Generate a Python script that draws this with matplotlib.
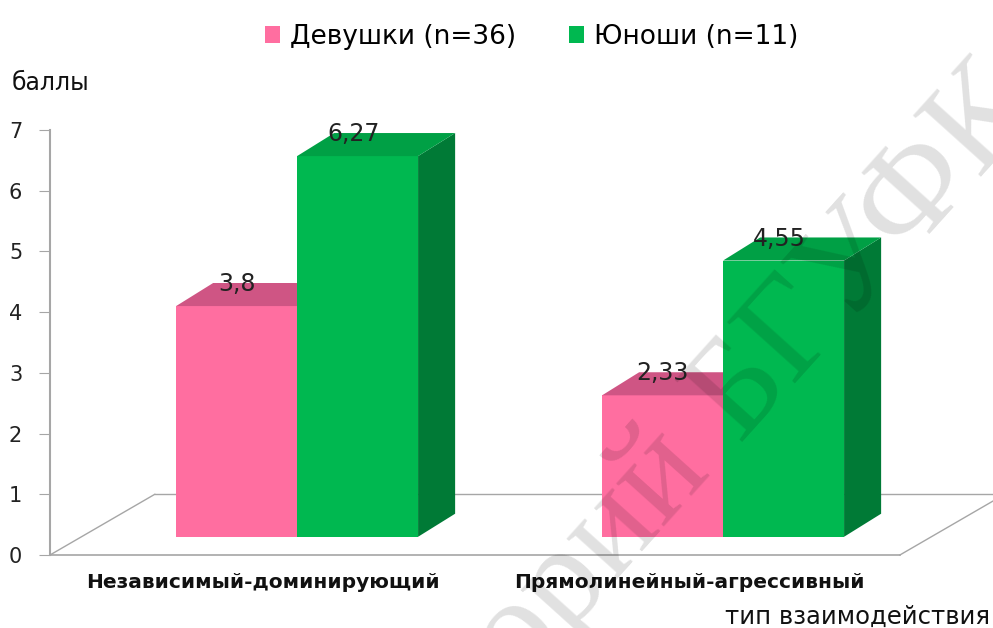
import matplotlib.pyplot as plt
from matplotlib.patches import Polygon, Patch

categories = ['Независимый-доминирующий', 'Прямолинейный-агрессивный']
series = ['Девушки (n=36)', 'Юноши (n=11)']
girls = [3.8, 2.33]
boys = [6.27, 4.55]
labels_girls = ['3,8', '2,33']
labels_boys = ['6,27', '4,55']

front = ['#FF6EA0', '#00B850']
top = ['#CF5584', '#00A045']
side = ['#C9507A', '#007A36']

plt.rcParams['font.family'] = 'DejaVu Sans'

fig = plt.figure(figsize=(9.93, 6.28), dpi=100)
ax = fig.add_axes([50 / 993, 73 / 628, 943 / 993, 425 / 628])
ax.set_xlim(-0.58, -0.58 + 943 / 426)
ax.set_ylim(0, 7)

bw = 0.284      # bar width
base = 0.3      # bars stand a bit behind the front floor edge
ddx, ddy = 0.087, 0.38   # bar depth
fdx, fdy = 0.246, 1.0    # floor depth

# floor
gray = '#A6A6A6'
x0, x1 = -0.58, 1.415
ax.plot([x0, x1], [0, 0], color=gray, lw=1.2, clip_on=False, zorder=1)
ax.plot([x0 + fdx, 2.0], [fdy, fdy], color=gray, lw=1.0, clip_on=False, zorder=1)
ax.plot([x0, x0 + fdx], [0, fdy], color=gray, lw=1.0, clip_on=False, zorder=1)
ax.plot([x1, x1 + fdx], [0, fdy], color=gray, lw=1.0, clip_on=False, zorder=1)

for i in range(len(categories)):
    for j, vals in enumerate([girls, boys]):
        v = vals[i]
        xl = i + (j - 1) * bw
        xr = xl + bw
        z = 3 + j
        ax.bar(xl, v, width=bw, bottom=base, align='edge', color=front[j],
               edgecolor='none', zorder=z)
        ax.add_patch(Polygon([(xl, base + v), (xr, base + v),
                              (xr + ddx, base + v + ddy), (xl + ddx, base + v + ddy)],
                             closed=True, facecolor=top[j], edgecolor='none', zorder=z))
        ax.add_patch(Polygon([(xr, base), (xr, base + v), (xr + ddx, base + v + ddy),
                              (xr + ddx, base + ddy)],
                             closed=True, facecolor=side[j], edgecolor='none', zorder=z - 0.5))

for i in range(len(categories)):
    ax.text(i - bw / 2, girls[i] + 0.66, labels_girls[i], ha='center', va='center',
            fontsize=17, color='#222222', zorder=10)
    ax.text(i + bw / 2 - 0.01, boys[i] + 0.66, labels_boys[i], ha='center', va='center',
            fontsize=17, color='#222222', zorder=10)
    ax.text(i - 0.08, -0.46, categories[i], ha='center', va='center',
            fontsize=14.5, fontweight='bold', color='#111111', clip_on=False)

for s in ['top', 'right', 'bottom']:
    ax.spines[s].set_visible(False)
ax.spines['left'].set_color(gray)
ax.spines['left'].set_linewidth(1.5)
ax.set_xticks([])
ax.set_yticks(range(8))
ax.tick_params(axis='y', length=8, color=gray, labelsize=15, labelcolor='#222222', pad=12)

fig.text(12 / 993, 1 - 83 / 628, 'баллы', fontsize=17, va='center', ha='left', color='#111111')
fig.text(990 / 993, 1 - 617 / 628, 'тип взаимодействия', fontsize=17.5, va='center',
         ha='right', color='#111111')

handles = [Patch(facecolor=front[0]), Patch(facecolor=front[1])]
fig.legend(handles, series, loc='upper center', bbox_to_anchor=(0.535, 1.0), ncol=2,
           frameon=False, fontsize=19, handlelength=0.6, handleheight=0.6,
           handletextpad=0.35, columnspacing=2.0)

# repository watermark
wm = dict(fontsize=100, family='Liberation Serif', rotation=48, rotation_mode='anchor',
          color='#000000', alpha=0.12, va='baseline', zorder=20)
fig.text(738 / 993, 1 - 442 / 628, 'БГУФК', ha='left', **wm)
fig.text(712 / 993, 1 - 470 / 628, 'Репозиторий', ha='right', **wm)

fig.savefig('out.png', dpi=100)
